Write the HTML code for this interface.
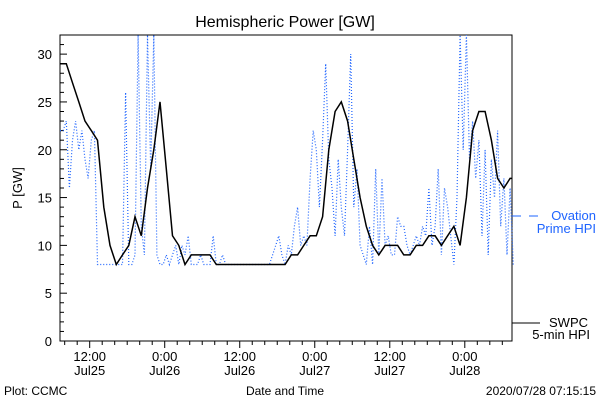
<!DOCTYPE html>
<html><head><meta charset="utf-8"><style>
body{margin:0;background:#fff}
svg{font-family:"Liberation Sans","DejaVu Sans",sans-serif}
</style></head><body>
<svg id="c" width="600" height="400" xmlns="http://www.w3.org/2000/svg">
<rect width="600" height="400" fill="#fff"/>
<text x="285" y="27" font-size="16" text-anchor="middle">Hemispheric Power [GW]</text>
<g id="axes"></g>
<g id="series"></g>
<text transform="translate(22,188) rotate(-90)" font-size="13" text-anchor="middle">P [GW]</text>
<text x="285" y="395" font-size="12" text-anchor="middle">Date and Time</text>
<text x="4" y="395" font-size="12">Plot: CCMC</text>
<text x="596" y="395" font-size="12" text-anchor="end">2020/07/28 07:15:15</text>
<g>
<line x1="512" y1="216" x2="540" y2="216" stroke="#1e64ff" stroke-dasharray="9 8"/>
<text x="596" y="220" font-size="13" fill="#1e64ff" text-anchor="end">Ovation</text>
<text x="596" y="233" font-size="13" fill="#1e64ff" text-anchor="end">Prime HPI</text>
</g>
<g>
<line x1="512" y1="323" x2="540" y2="323" stroke="#000"/>
<text x="588" y="327" font-size="13" text-anchor="end">SWPC</text>
<text x="590" y="339" font-size="13" text-anchor="end">5-min HPI</text>
</g>
</svg>
<script>
// hours since 2020/07/25 07:15
const swpcHours = Array.from({length:73},(_, i)=>i);
const swpcValues = [29,29,27,25,23,22,21,14,10,8,9,10,13,11,16,20,25,18,11,10,8,9,9,9,9,8,8,8,8,8,8,8,8,8,8,8,8,9,9,10,11,11,13,20,24,25,23,19,15,12,10,9,10,10,10,9,9,10,10,11,11,10,11,12,10,15,22,24,24,21,17,16,17];
const ovationValues = [22,22,23,16,21,23,20,22,19,17,21,22,8,8,8,8,8,8,8,8,8,26,8,8,9,32,12,9,32,18,32,9,8,8,9,8,9,10,8,10,9,11,8,8,8,9,8,8,8,11,8,8,9,8,8,8,8,8,8,8,8,8,8,8,8,8,8,8,9,10,11,9,8,10,9,12,14,10,11,10,17,22,20,14,21,29,19,16,11,19,14,11,20,30,14,18,10,9,8,12,8,18,9,17,10,11,9,9,13,12,12,10,9,10,11,10,12,11,16,10,12,18,9,16,14,11,8,15,32,20,32,19,23,17,21,11,20,9,19,15,22,12,17,9,16,8];
const ovationHours = ovationValues.map((_, i)=>i*0.5);
const yTicks = [0,5,10,15,20,25,30];
const xTickHours = [4.75,16.75,28.75,40.75,52.75,64.75];
const xTickTimes = ["12:00","0:00","12:00","0:00","12:00","0:00"];
const xTickDays = ["Jul25","Jul26","Jul26","Jul27","Jul27","Jul28"];

const X0=60,X1=512,Y0=341,Y1=35,HMAX=72.3,VMAX=32;
const xs=h=>X0+(h/HMAX)*(X1-X0);
const ys=v=>Y0-(v/VMAX)*(Y0-Y1);
const NS="http://www.w3.org/2000/svg";
const ax=document.getElementById('axes'), se=document.getElementById('series');
function mk(tag,parent,attrs){const e=document.createElementNS(NS,tag);for(const k in attrs)e.setAttribute(k,attrs[k]);parent.appendChild(e);return e;}

const frame=mk('rect',ax,{x:X0,y:Y1,width:X1-X0,height:Y0-Y1,fill:'none',stroke:'#000'});


for(let v=0;v<=VMAX;v++){
  const major=v%5===0;
  const t=mk('line',ax,{x1:X0,x2:X0+(major?7:4),y1:ys(v),y2:ys(v),stroke:'#000'});
  
  
}
yTicks.forEach(v=>{
  const t=mk('text',ax,{x:X0-8,y:ys(v)+5,'font-size':13,'text-anchor':'end'});
  t.textContent=v;
  
  
});
for(let h=0.75;h<=HMAX;h+=2){
  const major=xTickHours.some(m=>Math.abs(m-h)<0.01);
  const t=mk('line',ax,{x1:xs(h),x2:xs(h),y1:Y0,y2:Y0+(major?7:4),stroke:'#000'});
  
  
}
xTickHours.forEach((h,i)=>{
  const a=mk('text',ax,{x:xs(h),y:361,'font-size':13,'text-anchor':'middle'});
  a.textContent=xTickTimes[i];
  
  
  const b=mk('text',ax,{x:xs(h),y:375,'font-size':13,'text-anchor':'middle'});
  b.textContent=xTickDays[i];
  
  
});

let pb=ovationHours.map((h,i)=>(i?'L':'M')+xs(h).toFixed(1)+','+ys(ovationValues[i]).toFixed(1)).join(' ');
const ob=mk('path',se,{d:pb,fill:'none',stroke:'#1e64ff','stroke-width':1.2,'stroke-dasharray':'1 2'});



let ps=swpcHours.map((h,i)=>(i?'L':'M')+xs(h).toFixed(1)+','+ys(swpcValues[i]).toFixed(1)).join(' ');
ps+=' H'+X1;
const sb=mk('path',se,{d:ps,fill:'none',stroke:'#000','stroke-width':1.5});


</script>
</body></html>
